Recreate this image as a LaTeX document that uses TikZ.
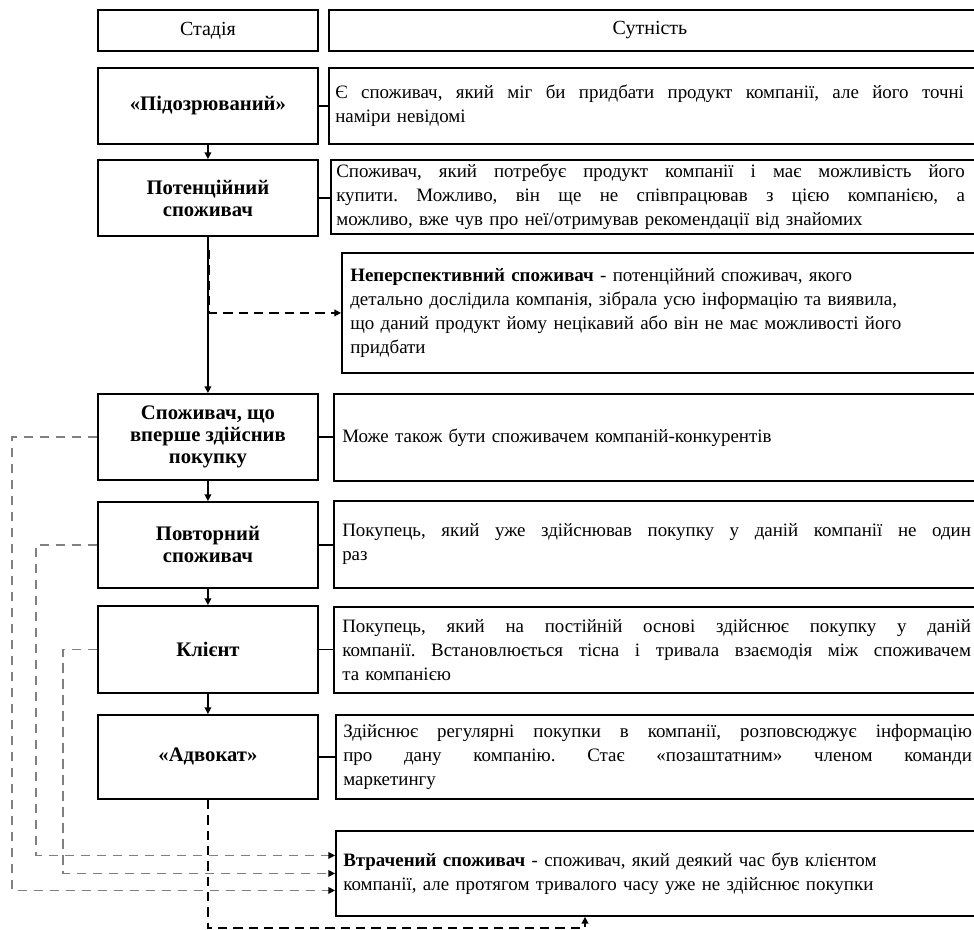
\documentclass[tikz,border=0pt]{standalone}
\usepackage{fontspec}
\setmainfont{Liberation Serif}
\usetikzlibrary{arrows.meta,calc}
\newlength\rw \setlength\rw{471.5pt}
\newcommand\jline[1]{{\frenchspacing\spaceskip=0pt\xspaceskip=0pt\makebox[\rw][s]{#1}}}
\begin{document}
\begin{tikzpicture}[x=0.75pt,y=-0.75pt,
  box/.style={draw, line width=1.4pt, anchor=north west, inner sep=0pt},
  lbox/.style={box, minimum width=165pt, align=center,
    font=\fontsize{15.5}{16.5}\selectfont\bfseries},
  rbox/.style={box},
  rtext/.style={anchor=west, inner sep=0pt, text width=\rw, align=left,
    font=\fontsize{14.2}{18}\selectfont},
  htext/.style={inner sep=0pt, font=\fontsize{15}{16}\selectfont},
  conn/.style={line width=1.1pt},
  arr/.style={line width=1.1pt, -{Triangle[length=5pt,width=5pt]}},
  dline/.style={line width=1.3pt, dash pattern=on 7pt off 4.5pt, -{Triangle[length=5pt,width=5pt]}},
  dthick/.style={line width=2pt, dash pattern=on 7pt off 4.5pt},
  gline/.style={line width=1.1pt, black!50, dash pattern=on 7pt off 5pt, -{Triangle[length=5pt,width=5pt,black]}}
]
\useasboundingbox (0,0) rectangle (974,929);

% headers
\node[box, minimum width=165pt, minimum height=30.75pt] (hL) at (97,9) {};
\node[htext] (hLt) at (hL.center) {Стадія};
\node[box, minimum width=496.5pt, minimum height=30.75pt] (hR) at (328,9) {};
\node[htext] (hRt) at (650,30) {Сутність};

% left column
\node[lbox, minimum height=57pt] (L1) at (97,67) {«Підозрюваний»};
\node[lbox, minimum height=57pt] (L2) at (97,159) {Потенційний\\споживач};
\node[lbox, minimum height=64.5pt] (L3) at (97,393) {Споживач, що\\вперше здійснив\\покупку};
\node[lbox, minimum height=64.5pt] (L4) at (97,501) {Повторний\\споживач};
\node[lbox, minimum height=65.25pt] (L5) at (97,605) {Клієнт};
\node[lbox, minimum height=63pt] (L6) at (97,714) {«Адвокат»};

% right column
\node[rbox, minimum width=496.5pt, minimum height=57pt] (R1) at (328,67) {};
\node[rtext] (R1t) at ($(R1.west)+(7,0)$) {\jline{Є споживач, який міг би придбати продукт компанії, але його точні}\\наміри невідомі};

\node[rbox, minimum width=495pt, minimum height=55.5pt] (R2) at (330,159) {};
\node[rtext] (R2t) at ($(R2.west)+(6,0)$) {\jline{Споживач, який потребує продукт компанії і має можливість його}\\\jline{купити. Можливо, він ще не співпрацював з цією компанією, а}\\можливо, вже чув про неї/отримував рекомендації від знайомих};

\node[rbox, minimum width=486.75pt, minimum height=90pt] (Nep) at (341,252) {};
\node[rtext] (Nept) at ($(Nep.west)+(9,0)$) {\textbf{Неперспективний споживач} - потенційний споживач, якого\\детально дослідила компанія, зібрала усю інформацію та виявила,\\що даний продукт йому нецікавий або він не має можливості його\\придбати};

\node[rbox, minimum width=492.75pt, minimum height=65.25pt] (R3) at (333,393) {};
\node[rtext] (R3t) at ($(R3.west)+(9,0)$) {Може також бути споживачем компаній-конкурентів};

\node[rbox, minimum width=492.75pt, minimum height=65.25pt] (R4) at (333,500) {};
\node[rtext] (R4t) at ($(R4.west)+(9,0)$) {\jline{Покупець, який уже здійснював покупку у даній компанії не один}\\раз};

\node[rbox, minimum width=492.75pt, minimum height=64.5pt] (R5) at (333,606) {};
\node[rtext] (R5t) at ($(R5.west)+(9,0)$) {\jline{Покупець, який на постійній основі здійснює покупку у даній}\\\jline{компанії. Встановлюється тісна і тривала взаємодія між споживачем}\\та компанією};

\node[rbox, minimum width=491.25pt, minimum height=63pt] (R6) at (335,714) {};
\node[rtext] (R6t) at ($(R6.west)+(8,0)$) {\jline{Здійснює регулярні покупки в компанії, розповсюджує інформацію}\\\jline{про дану компанію. Стає «позаштатним» членом команди}\\маркетингу};

\node[rbox, minimum width=491.25pt, minimum height=63.75pt] (Lost) at (335,830) {};
\node[rtext] (Lostt) at ($(Lost.west)+(8,0)$) {\textbf{Втрачений споживач} - споживач, який деякий час був клієнтом\\компанії, але протягом тривалого часу уже не здійснює покупки};

% row connectors
\draw[conn] (L1.east) -- (L1.east -| R1.west);
\draw[conn] (L2.east) -- (L2.east -| R2.west);
\draw[conn] (L3.east) -- (L3.east -| R3.west);
\draw[conn] (L4.east) -- (L4.east -| R4.west);
\draw[conn] (L5.east) -- (L5.east -| R5.west);
\draw[conn] (L6.east) -- (L6.east -| R6.west);

% stage arrows
\draw[arr] (L1.south) -- (L2.north);
\draw[arr] (L2.south) -- (L3.north);
\draw[arr] (L3.south) -- (L4.north);
\draw[arr] (L4.south) -- (L5.north);
\draw[arr] (L5.south) -- (L6.north);

% to unpromising customer
\draw[dthick] ($(L2.south)+(1,13)$) -- ($(L2.south |- Nep.west)+(1,0)$);
\draw[dline] (L2.south |- Nep.west) -- (Nep.west);

% lost customer (gray)
\draw[gline] (L3.west) -- ++(-85,0) |- ($(Lost.west)+(0,17)$);
\draw[gline] (L4.west) -- ++(-61,0) |- ($(Lost.west)+(0,-18)$);
\draw[gline] (L5.west) -- ++(-34,0) |- (Lost.west);

% advocate to lost
\draw[dline] (L6.south) -- ++(0,128) -| ($(Lost.south west)+(250,0)$);
\end{tikzpicture}
\end{document}
